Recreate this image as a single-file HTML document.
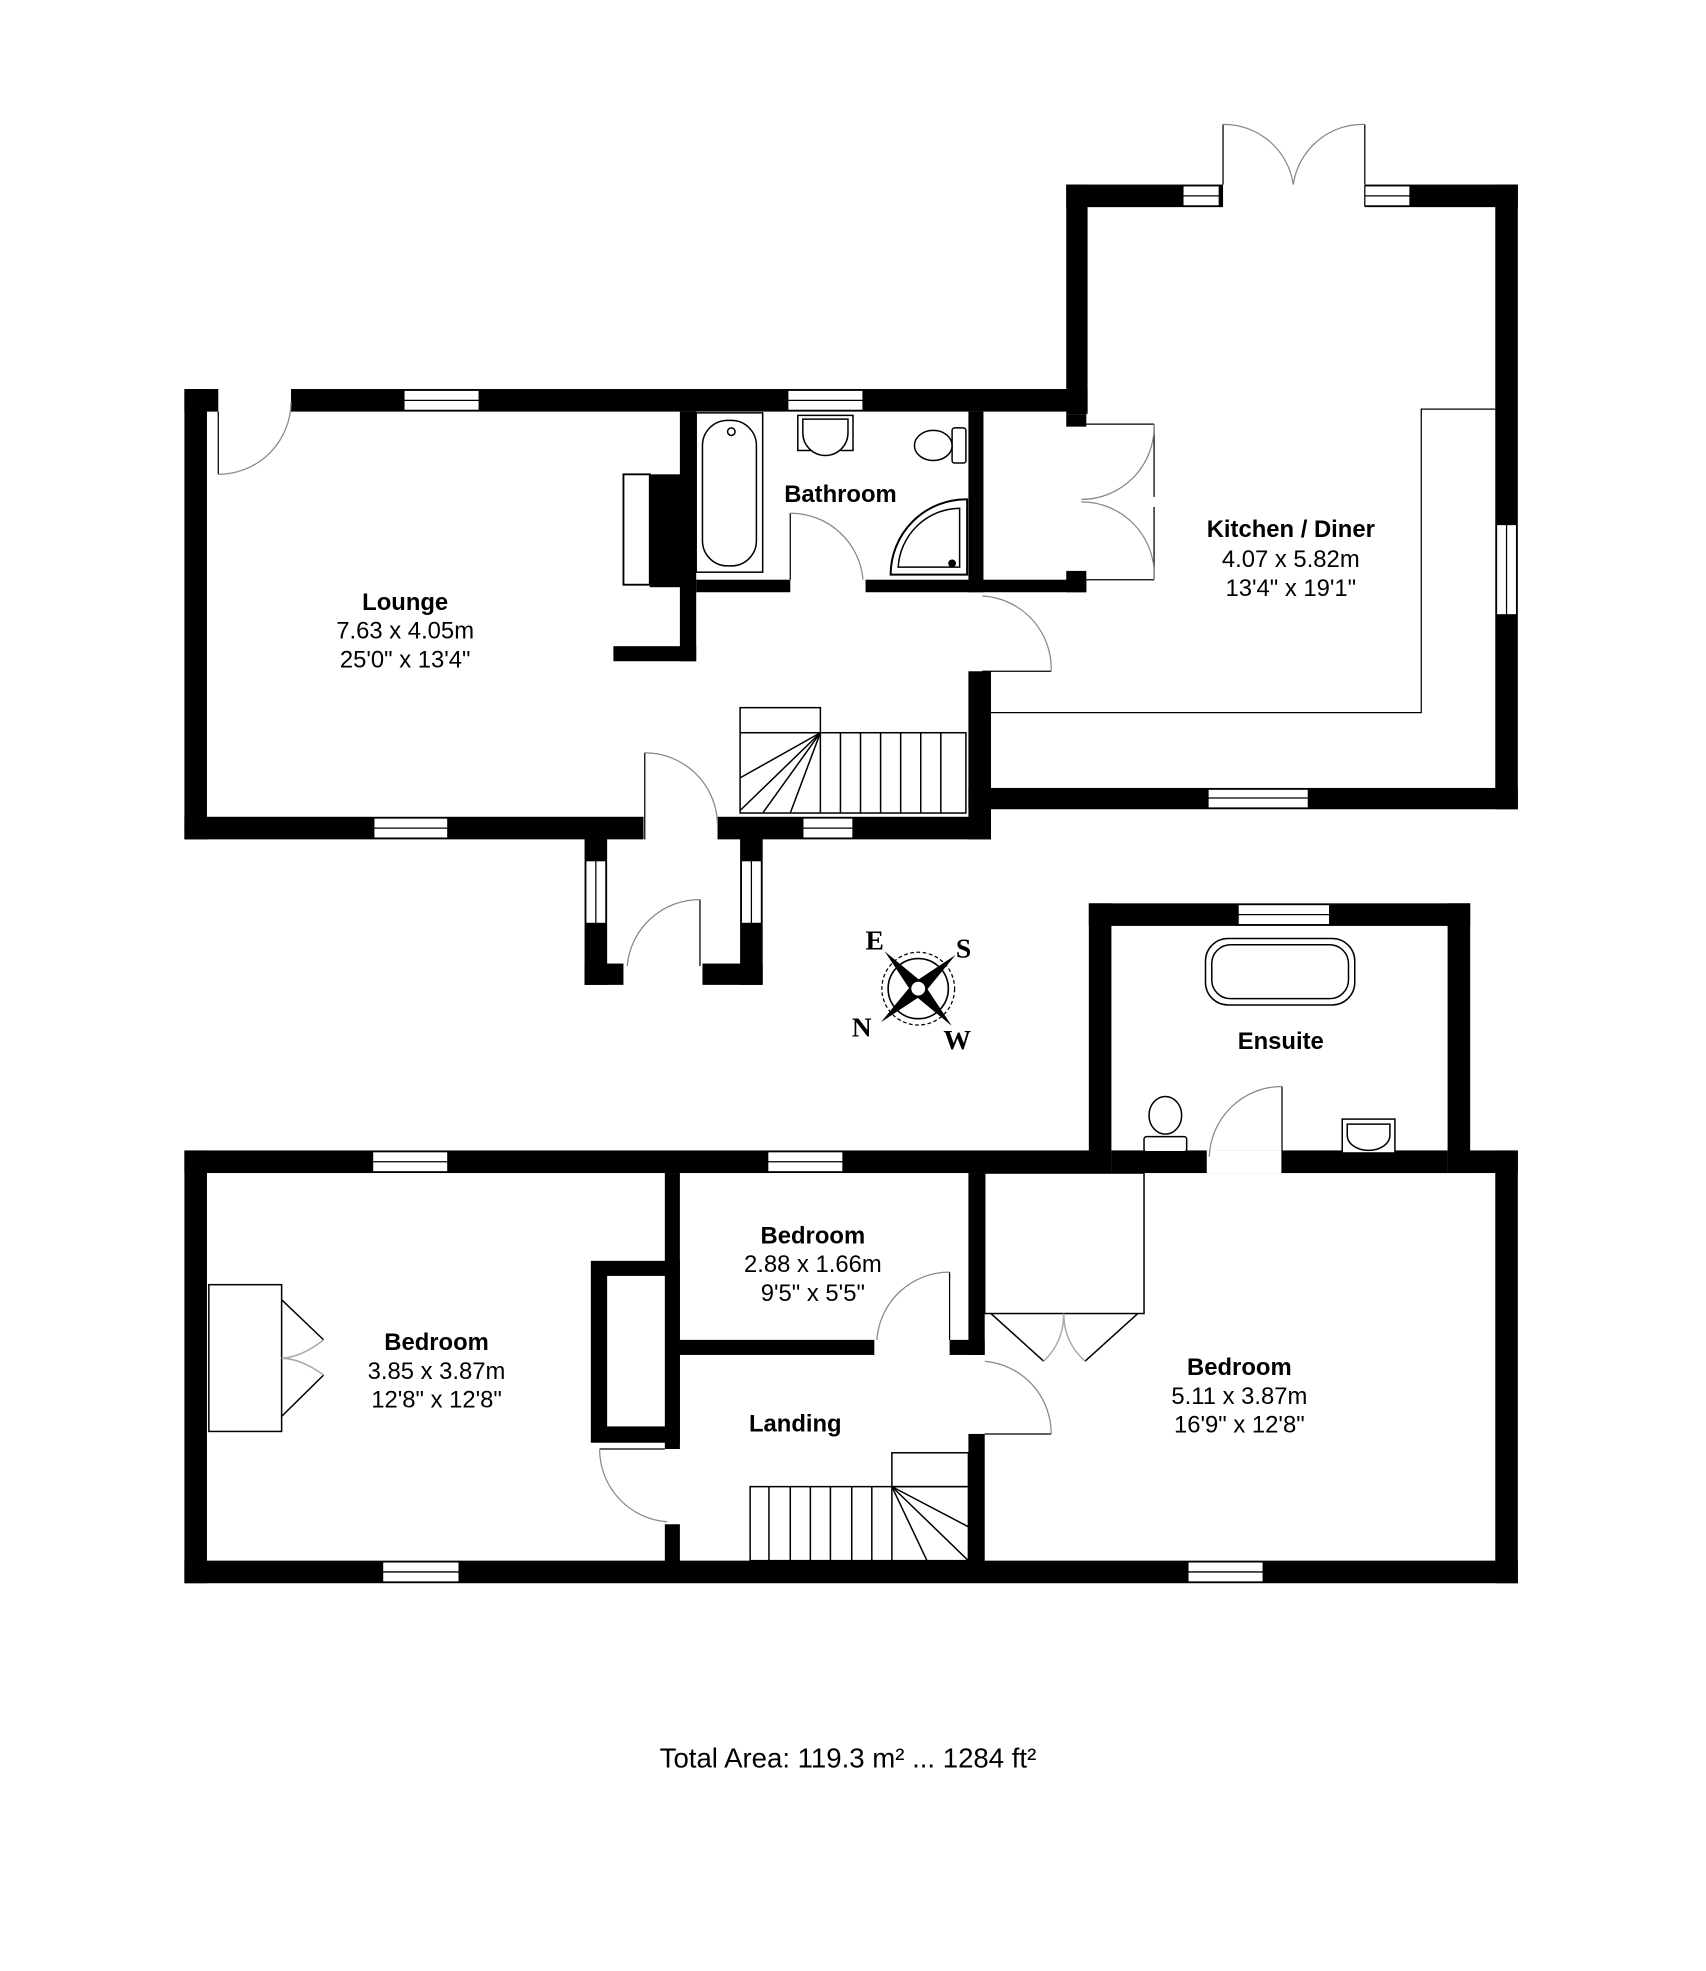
<!DOCTYPE html>
<html><head><meta charset="utf-8"><style>
html,body{margin:0;padding:0;background:#fff;}
svg{display:block;}
text{font-family:"Liberation Sans",Arial,sans-serif;}
.b{font-weight:bold;font-size:19px;}
.n{font-size:19px;}
.c{font-family:"Liberation Serif",serif;font-weight:bold;font-size:22px;}
</style></head><body>
<svg width="1706" height="1971" viewBox="0 0 1360 1571" xmlns="http://www.w3.org/2000/svg">
<rect width="1360" height="1571" fill="#fff"/>
<g fill="#000">
<rect x="147" y="310" width="18" height="359"/>
<rect x="147" y="310" width="27" height="18"/>
<rect x="232" y="310" width="635" height="18"/>
<rect x="850" y="147" width="17" height="183"/>
<rect x="850" y="147" width="125" height="18"/>
<rect x="1088" y="147" width="122" height="18"/>
<rect x="1192" y="147" width="18" height="498"/>
<rect x="772" y="628" width="438" height="17"/>
<rect x="147" y="651" width="366" height="18"/>
<rect x="572" y="651" width="218" height="18"/>
<rect x="772" y="535" width="18" height="134"/>
<rect x="772" y="328" width="12" height="144"/>
<rect x="542" y="328" width="13" height="199"/>
<rect x="489" y="515" width="66" height="12"/>
<rect x="518" y="378" width="30" height="90"/>
<rect x="555" y="462" width="75" height="10"/>
<rect x="690" y="462" width="176" height="10"/>
<rect x="850" y="330" width="16" height="10"/>
<rect x="850" y="455" width="16" height="17"/>
<rect x="466" y="660" width="18" height="125"/>
<rect x="466" y="768" width="31" height="17"/>
<rect x="590" y="660" width="18" height="125"/>
<rect x="560" y="768" width="48" height="17"/>
<rect x="147" y="917" width="1063" height="18"/>
<rect x="147" y="917" width="18" height="345"/>
<rect x="147" y="1244" width="1063" height="18"/>
<rect x="1192" y="917" width="18" height="345"/>
<rect x="868" y="720" width="304" height="18"/>
<rect x="868" y="720" width="18" height="215"/>
<rect x="1154" y="720" width="18" height="215"/>
<rect x="530" y="935" width="12" height="220"/>
<rect x="530" y="1215" width="12" height="30"/>
<rect x="471" y="1005" width="71" height="145"/>
<rect x="542" y="1068" width="155" height="12"/>
<rect x="757" y="1068" width="28" height="12"/>
<rect x="772" y="935" width="13" height="145"/>
<rect x="772" y="1143" width="13" height="102"/>
</g>
<g fill="#fff">
<rect x="484" y="1017" width="46" height="120"/>
<rect x="886" y="917" width="268" height="18"/>
</g>
<rect x="886" y="917" width="76" height="18" fill="#000"/>
<rect x="1022" y="917" width="132" height="18" fill="#000"/>
<rect x="497" y="378" width="21" height="88" fill="#fff" stroke="#000" stroke-width="1.5"/>
<g fill="#fff" stroke="#000" stroke-width="1">
<rect x="322" y="311" width="60" height="16"/><line x1="322" y1="319" x2="382" y2="319"/>
<rect x="628" y="311" width="60" height="16"/><line x1="628" y1="319" x2="688" y2="319"/>
<rect x="943" y="148" width="29" height="16"/><line x1="943" y1="156" x2="972" y2="156"/>
<rect x="1088" y="148" width="36" height="16"/><line x1="1088" y1="156" x2="1124" y2="156"/>
<rect x="1193" y="418" width="16" height="72"/><line x1="1201" y1="418" x2="1201" y2="490"/>
<rect x="963" y="629" width="80" height="15"/><line x1="963" y1="636" x2="1043" y2="636"/>
<rect x="298" y="652" width="59" height="16"/><line x1="298" y1="660" x2="357" y2="660"/>
<rect x="640" y="652" width="40" height="16"/><line x1="640" y1="660" x2="680" y2="660"/>
<rect x="467" y="686" width="16" height="50"/><line x1="475" y1="686" x2="475" y2="736"/>
<rect x="591" y="686" width="16" height="50"/><line x1="599" y1="686" x2="599" y2="736"/>
<rect x="297" y="918" width="60" height="16"/><line x1="297" y1="926" x2="357" y2="926"/>
<rect x="612" y="918" width="60" height="16"/><line x1="612" y1="926" x2="672" y2="926"/>
<rect x="987" y="721" width="73" height="16"/><line x1="987" y1="729" x2="1060" y2="729"/>
<rect x="305" y="1245" width="61" height="16"/><line x1="305" y1="1253" x2="366" y2="1253"/>
<rect x="947" y="1245" width="60" height="16"/><line x1="947" y1="1253" x2="1007" y2="1253"/>
</g>
<g fill="none" stroke="#000" stroke-width="1">
<line x1="174" y1="328" x2="174" y2="378"/>
<path d="M174 378 A58 58 0 0 0 232 320" stroke="#888"/>
<line x1="975" y1="147" x2="975" y2="99"/><line x1="1088" y1="147" x2="1088" y2="99"/>
<path d="M975 99 A56 56 0 0 1 1031 147" stroke="#888"/>
<path d="M1088 99 A56 56 0 0 0 1031 147" stroke="#888"/>
<line x1="866" y1="338" x2="920" y2="338"/><line x1="920" y1="338" x2="920" y2="396"/>
<line x1="866" y1="462" x2="920" y2="462"/><line x1="920" y1="404" x2="920" y2="462"/>
<path d="M920 338 A58 58 0 0 1 862 398" stroke="#888"/>
<path d="M920 462 A58 58 0 0 0 862 400" stroke="#888"/>
<line x1="630" y1="409" x2="630" y2="462"/>
<path d="M630 409 A58 58 0 0 1 688 462" stroke="#888"/>
<line x1="783" y1="535" x2="838" y2="535"/>
<path d="M783 475 A58 58 0 0 1 838 535" stroke="#888"/>
<line x1="514" y1="600" x2="514" y2="669"/>
<path d="M514 600 A58 58 0 0 1 572 658" stroke="#888"/>
<line x1="558" y1="717" x2="558" y2="770"/>
<path d="M558 717 A58 58 0 0 0 500 770" stroke="#888"/>
<line x1="1022" y1="866" x2="1022" y2="935"/>
<path d="M1022 866 A58 58 0 0 0 964 922" stroke="#888"/>
<line x1="478" y1="1155" x2="530" y2="1155"/>
<path d="M478 1155 A58 58 0 0 0 532 1213" stroke="#888"/>
<line x1="757" y1="1014" x2="757" y2="1068"/>
<path d="M757 1014 A58 58 0 0 0 699 1068" stroke="#888"/>
<line x1="785" y1="1143" x2="838" y2="1143"/>
<path d="M785 1085 A58 58 0 0 1 838 1143" stroke="#888"/>
</g>
<path d="M783 568 H1133 V326 H1192" fill="none" stroke="#000" stroke-width="1"/>
<g fill="none" stroke="#000" stroke-width="1.2">
<rect x="590" y="564" width="64" height="20"/>
<rect x="590" y="584" width="180" height="64"/>
<line x1="670" y1="584" x2="670" y2="648"/><line x1="686" y1="584" x2="686" y2="648"/>
<line x1="702" y1="584" x2="702" y2="648"/><line x1="718" y1="584" x2="718" y2="648"/>
<line x1="734" y1="584" x2="734" y2="648"/><line x1="750" y1="584" x2="750" y2="648"/>
<line x1="654" y1="584" x2="654" y2="648"/>
<line x1="654" y1="584" x2="590" y2="620"/><line x1="654" y1="584" x2="590" y2="646"/>
<line x1="654" y1="584" x2="608" y2="648"/><line x1="654" y1="584" x2="630" y2="648"/>
</g>
<g fill="none" stroke="#000" stroke-width="1.2">
<rect x="711" y="1158" width="61" height="27"/>
<rect x="598" y="1185" width="174" height="59"/>
<line x1="613" y1="1185" x2="613" y2="1244"/><line x1="630" y1="1185" x2="630" y2="1244"/>
<line x1="646" y1="1185" x2="646" y2="1244"/><line x1="662" y1="1185" x2="662" y2="1244"/>
<line x1="679" y1="1185" x2="679" y2="1244"/><line x1="695" y1="1185" x2="695" y2="1244"/>
<line x1="711" y1="1185" x2="711" y2="1244"/>
<line x1="711" y1="1185" x2="772" y2="1217"/><line x1="711" y1="1185" x2="772" y2="1244"/>
<line x1="711" y1="1185" x2="739" y2="1244"/>
</g>
<g fill="none" stroke="#000" stroke-width="1.2">
<rect x="166.5" y="1024" width="58" height="117" fill="#fff"/>
<line x1="224.5" y1="1036" x2="258" y2="1068"/><line x1="224.5" y1="1129" x2="258" y2="1096"/>
<path d="M258 1068 Q240 1082 224.5 1082.6 Q240 1083 258 1096" stroke="#aaa"/>
<rect x="785" y="935" width="127" height="112" fill="#fff"/>
<line x1="790" y1="1047" x2="832" y2="1085"/><line x1="907" y1="1047" x2="865" y2="1085"/>
<path d="M832 1085 Q848 1070 848 1047 Q848 1070 865 1085" stroke="#aaa"/>
</g>
<g fill="#fff" stroke="#000" stroke-width="1.2">
<rect x="555" y="329" width="53" height="127"/>
<rect x="560" y="335" width="43" height="116" rx="20"/>
<circle cx="583" cy="344" r="3"/>
<rect x="636" y="331" width="44" height="28"/>
<path d="M640 334 H676 V345 A18 18 0 0 1 640 345 Z"/>
<rect x="759" y="341" width="11" height="28" rx="2"/>
<ellipse cx="744" cy="355" rx="15" ry="12"/>
<path d="M771 398 V458 H710 A60 60 0 0 1 771 398 Z" stroke-width="1.6"/>
<path d="M765 405 V452 H716 A50 50 0 0 1 765 405 Z"/>
<circle cx="759" cy="449" r="2.5" fill="#000"/>
<rect x="961" y="748" width="119" height="53" rx="18"/>
<rect x="966" y="753" width="109" height="43" rx="15"/>
<rect x="912" y="906" width="34" height="12" rx="2"/>
<ellipse cx="929" cy="889" rx="13" ry="15"/>
<rect x="1070" y="892" width="42" height="27"/>
<path d="M1074 896 H1108 V905 A17 12 0 0 1 1074 905 Z"/>
</g>
<g transform="translate(732,788)">
<circle r="29" fill="none" stroke="#000" stroke-width="1" stroke-dasharray="3,2"/>
<circle r="24" fill="none" stroke="#000" stroke-width="1.3"/>
<g transform="rotate(-42)">
<path d="M0 -40 L6 0 L0 40 L-6 0 Z" fill="#000"/>
<path d="M-40 0 L0 6 L40 0 L0 -6 Z" fill="#000"/>
</g>
<circle r="6" fill="#fff" stroke="#000"/>
</g>
<text class="c" x="690" y="757">E</text>
<text class="c" x="762" y="763">S</text>
<text class="c" x="679" y="826">N</text>
<text class="c" x="752" y="836">W</text>
<g text-anchor="middle">
<text class="b" x="323" y="486">Lounge</text>
<text class="n" x="323" y="509">7.63 x 4.05m</text>
<text class="n" x="323" y="532">25'0" x 13'4"</text>
<text class="b" x="670" y="400">Bathroom</text>
<text class="b" x="1029" y="428">Kitchen / Diner</text>
<text class="n" x="1029" y="452">4.07 x 5.82m</text>
<text class="n" x="1029" y="475">13'4" x 19'1"</text>
<text class="b" x="1021" y="836">Ensuite</text>
<text class="b" x="648" y="991">Bedroom</text>
<text class="n" x="648" y="1014">2.88 x 1.66m</text>
<text class="n" x="648" y="1037">9'5" x 5'5"</text>
<text class="b" x="348" y="1076">Bedroom</text>
<text class="n" x="348" y="1099">3.85 x 3.87m</text>
<text class="n" x="348" y="1122">12'8" x 12'8"</text>
<text class="b" x="634" y="1141">Landing</text>
<text class="b" x="988" y="1096">Bedroom</text>
<text class="n" x="988" y="1119">5.11 x 3.87m</text>
<text class="n" x="988" y="1142">16'9" x 12'8"</text>
<text x="676" y="1409" font-size="22">Total Area: 119.3 m² ... 1284 ft²</text>
</g>
</svg>
</body></html>
